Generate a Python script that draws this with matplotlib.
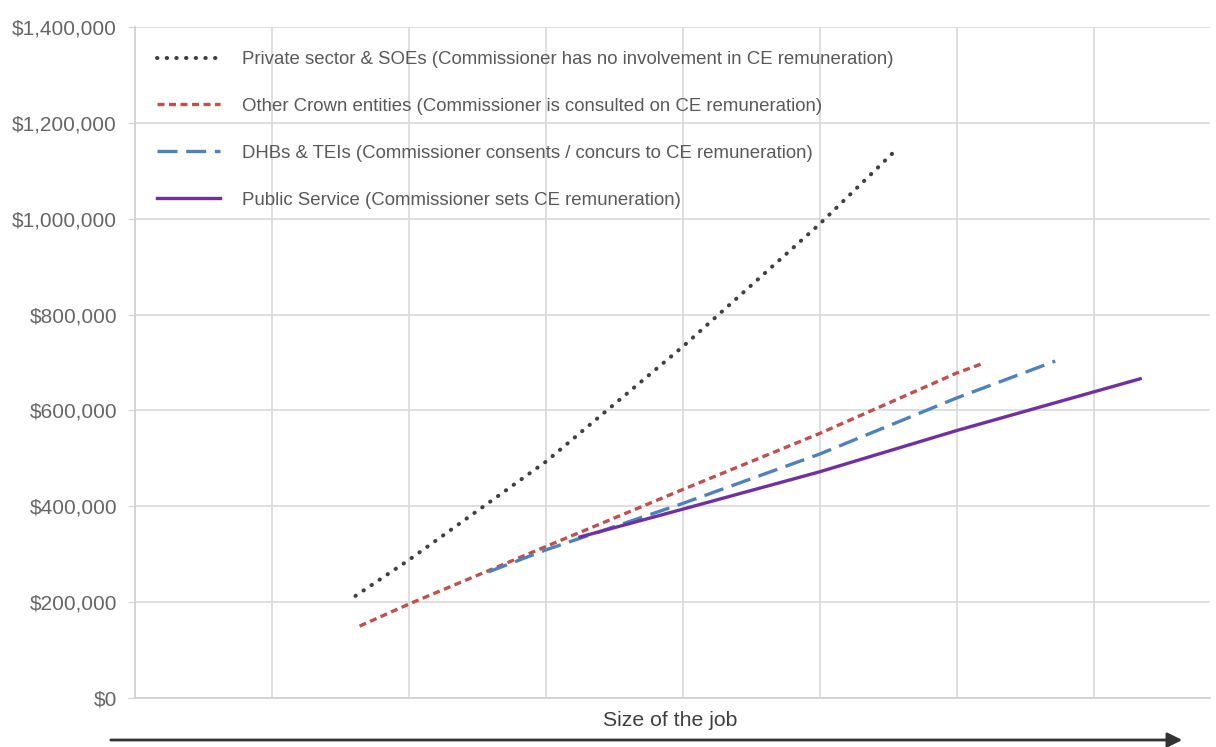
import matplotlib.pyplot as plt
import numpy as np
from matplotlib.ticker import FuncFormatter

plt.rcParams['font.family'] = ['Liberation Sans', 'DejaVu Sans']

# size of job (arbitrary units) and remuneration
private_x = [1.61, 2.0, 3.0, 4.0, 5.0, 5.57]
private_y = [213000, 288000, 493000, 733000, 989000, 1147000]

crown_x = [1.64, 2.0, 3.0, 4.0, 5.0, 6.0, 6.20]
crown_y = [150000, 196000, 316000, 435000, 552000, 678000, 699000]

dhb_x = [2.58, 3.0, 4.0, 5.0, 6.0, 6.72]
dhb_y = [263000, 309000, 406000, 509000, 626000, 703000]

ps_x = [3.25, 4.0, 5.0, 6.0, 7.34]
ps_y = [336000, 394000, 472000, 558000, 666000]

labels = ["Private sector & SOEs (Commissioner has no involvement in CE remuneration)",
          "Other Crown entities (Commissioner is consulted on CE remuneration)",
          "DHBs & TEIs (Commissioner consents / concurs to CE remuneration)",
          "Public Service (Commissioner sets CE remuneration)"]

fig = plt.figure(figsize=(12.16, 7.47), dpi=100)
ax = fig.add_axes([135/1216, 1-698/747, (1210-135)/1216, (698-27)/747])

ax.plot(private_x, private_y, color='#404040', lw=2.9, linestyle=(0, (0.1, 2.3)),
        dash_capstyle='round', label=labels[0])
ax.plot(crown_x, crown_y, color='#C0504D', lw=2.4, linestyle=(0, (2.1, 1.35)), label=labels[1])
ax.plot(dhb_x, dhb_y, color='#4F81BD', lw=2.4, linestyle=(0, (6, 2.6)), label=labels[2])
ax.plot(ps_x, ps_y, color='#7030A0', lw=2.4, label=labels[3])

ax.set_xlim(0, 7.85)
ax.set_ylim(0, 1400000)
ax.set_xticks(np.arange(0, 8))
ax.set_yticks(np.arange(0, 1400001, 200000))
ax.yaxis.set_major_formatter(FuncFormatter(lambda v, p: '${:,.0f}'.format(v)))
ax.tick_params(axis='x', length=0, labelbottom=False)
ax.tick_params(axis='y', length=5, color='#d0d0d0', labelsize=15, labelcolor='#666666', pad=8)
ax.grid(True, color='#d9d9d9', lw=1.2)
ax.set_axisbelow(True)
for s in ['top', 'right']:
    ax.spines[s].set_visible(False)
for s in ['left', 'bottom']:
    ax.spines[s].set_color('#d0d0d0')
    ax.spines[s].set_linewidth(1.2)

leg = ax.legend(loc='upper left', bbox_to_anchor=(0.0045, 0.989), frameon=False,
                fontsize=13.4, handlelength=3.4, handletextpad=1.2, labelspacing=1.6)
for t in leg.get_texts():
    t.set_color('#595959')

fig.text(670/1216, 1-721/747, 'Size of the job', ha='center', va='center',
         fontsize=15.3, color='#404040')
ax.annotate('', xy=(1185, 747-740), xytext=(108, 747-740),
            xycoords='figure pixels', textcoords='figure pixels',
            arrowprops=dict(arrowstyle='-|>', color='#333333', lw=2, mutation_scale=22))

fig.savefig('out.png', dpi=100)
